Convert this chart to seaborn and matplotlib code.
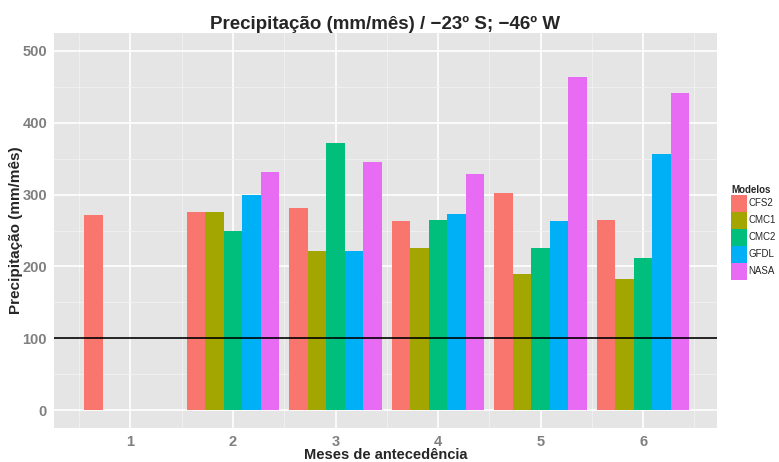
import numpy as np
import pandas as pd
import seaborn as sns
import matplotlib.pyplot as plt
from matplotlib.ticker import MultipleLocator

meses = [1, 2, 3, 4, 5, 6]
modelos = ["CFS2", "CMC1", "CMC2", "GFDL", "NASA"]
cfs2 = [272, 276, 281, 263, 302, 265]
cmc1 = [np.nan, 276, 222, 225, 190, 182]
cmc2 = [np.nan, 249, 372, 265, 225, 212]
gfdl = [np.nan, 300, 222, 273, 263, 356]
nasa = [np.nan, 332, 345, 329, 464, 442]
limiar = 100

cores = ["#F8766D", "#A3A500", "#00BF7D", "#00B0F6", "#E76BF3"]

series = {"CFS2": cfs2, "CMC1": cmc1, "CMC2": cmc2, "GFDL": gfdl, "NASA": nasa}
linhas = []
for modelo, valores in series.items():
    for mes, v in zip(meses, valores):
        linhas.append({"Mes": mes, "Modelo": modelo, "Precip": v})
df = pd.DataFrame(linhas).dropna()

sns.set_style("white")
plt.rcParams['font.family'] = ['Liberation Sans', 'DejaVu Sans']

fig = plt.figure(figsize=(7.79, 4.62), dpi=100)
ax = fig.add_axes([54 / 779, 1 - 428 / 462, (717 - 54) / 779, (428 - 33) / 462])

sns.barplot(data=df, x="Mes", y="Precip", hue="Modelo", hue_order=modelos,
            palette=cores, saturation=1, native_scale=True, width=0.9,
            dodge=True, linewidth=0, errorbar=None, ax=ax)

ax.axhline(limiar, color="black", lw=1.2, zorder=5)

ax.set_xlim(0.255, 6.72)
ax.set_ylim(-25, 525)
ax.xaxis.set_major_locator(MultipleLocator(1))
ax.xaxis.set_minor_locator(MultipleLocator(0.5))
ax.yaxis.set_major_locator(MultipleLocator(100))
ax.yaxis.set_minor_locator(MultipleLocator(50))

ax.set_facecolor("#E5E5E5")
ax.grid(which="major", color="white", lw=1.2)
ax.grid(which="minor", color="#F2F2F2", lw=0.6)
ax.set_axisbelow(True)
for s in ax.spines.values():
    s.set_visible(False)

ax.tick_params(which="major", length=3, width=0.8, color="#7F7F7F",
               labelcolor="#7F7F7F", labelsize=10.5, pad=2)
ax.tick_params(which="minor", length=0)
for lab in ax.get_xticklabels() + ax.get_yticklabels():
    lab.set_fontweight("bold")

ax.set_title("Precipitação (mm/mês) / −23º S; −46º W", fontsize=13.5,
             fontweight="bold", pad=3)
ax.set_xlabel("Meses de antecedência", fontsize=10.5, fontweight="bold")
ax.set_ylabel("Precipitação (mm/mês)", fontsize=11, fontweight="bold")
ax.xaxis.set_label_coords(0.5, -0.05)
ax.yaxis.set_label_coords(-0.047, 0.5)

handles, labels = ax.get_legend_handles_labels()
ax.legend_.remove()
leg = fig.legend(handles, labels, loc="upper left",
                 bbox_to_anchor=(729 / 779, 1 - 183 / 462), frameon=False,
                 fontsize=7, title="Modelos", handlelength=1.65, handleheight=2.3,
                 labelspacing=0.0, handletextpad=0.15, borderaxespad=0,
                 borderpad=0.2)
leg.get_title().set_fontweight("bold")
leg.get_title().set_fontsize(7)
leg._legend_box.align = "left"

fig.savefig("out.png", dpi=100)
